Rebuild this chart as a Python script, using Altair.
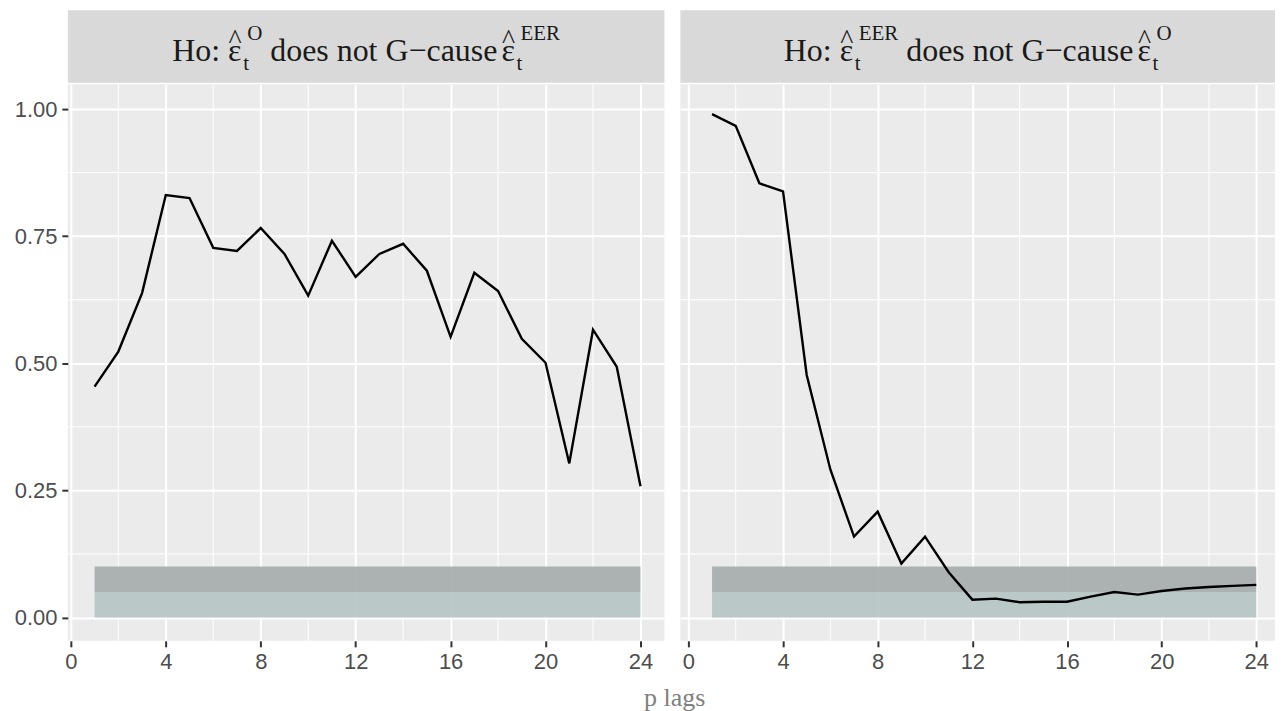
import altair as alt
import pandas as pd

# ---------------- data ----------------
lags = list(range(1, 25))
p_left = [0.454, 0.523, 0.638, 0.831, 0.825, 0.727, 0.721, 0.766, 0.715, 0.633,
          0.741, 0.670, 0.715, 0.735, 0.682, 0.552, 0.678, 0.642, 0.548, 0.501,
          0.303, 0.566, 0.493, 0.258]
p_right = [0.990, 0.967, 0.854, 0.838, 0.477, 0.291, 0.159, 0.208, 0.106, 0.159,
           0.089, 0.035, 0.037, 0.030, 0.031, 0.031, 0.041, 0.050, 0.045, 0.052,
           0.057, 0.060, 0.062, 0.064]
band_x = [1, 24]
band_lo = [0.00, 0.05]
band_hi = [0.05, 0.10]
band_colors = ["#B6C4C4", "#A6ACAC"]
x_ticks = [0, 4, 8, 12, 16, 20, 24]
x_minor = [2, 6, 10, 14, 18, 22]
y_ticks = [0.0, 0.25, 0.5, 0.75, 1.0]
y_minor = [0.125, 0.375, 0.625, 0.875]

H = 558
YS = alt.Scale(domain=[-0.046, 1.049], nice=False, zero=False)

# Times-like metrics for strip label layout
M = {'H': .722, 'o': .5, ':': .278, ' ': .25, 'd': .5, 'e': .444, 's': .389, 'n': .5,
     't': .278, 'G': .722, '\u2212': .564, 'c': .444, 'a': .444, 'u': .5, 'O': .722,
     'E': .611, 'R': .667}


def tw(s, size):
    return sum(M[c] for c in s) * size


one = alt.Data(values=[{"k": 1}])


def txt(s, x, y, size, align="left"):
    return alt.Chart(one).mark_text(
        text=s, font="Liberation Serif", fontSize=size, align=align,
        baseline="alphabetic", color="#1A1A1A"
    ).encode(x=alt.value(x), y=alt.value(y))


def strip(W, supA, supB):
    F, S = 32, 21
    EPS = 0.44 * F
    gap = tw(" ", F)
    w_ho = tw("Ho:", F)
    w_mid = tw("does not G\u2212cause", F)
    w_scrA = max(tw(supA, S), tw("t", S)) + 5
    w_scrB = max(tw(supB, S), tw("t", S)) + 5
    total = w_ho + gap + EPS + w_scrA + gap + w_mid + 0.5 * gap + EPS + w_scrB
    x = W / 2 - total / 2
    layers = [alt.Chart(one).mark_rect(color="#D9D9D9").encode(
        x=alt.value(0), x2=alt.value(W), y=alt.value(-74), y2=alt.value(-1.5))]
    layers.append(txt("Ho:", x, -23.5, F))
    x += w_ho + gap

    def eps_block(x, sup):
        return [txt("\u03b5", x, -23.5, F),
                txt("^", x + EPS / 2, -36, 28, align="center"),
                txt("t", x + EPS + 1, -14, S),
                txt(sup, x + EPS + 5, -44, S)]
    layers += eps_block(x, supA)
    x += EPS + w_scrA + gap
    layers.append(txt("does not G\u2212cause", x, -23.5, F))
    x += w_mid + 0.5 * gap
    layers += eps_block(x, supB)
    return layers


def panel(values, W, xdom, show_y, supA, supB):
    XS = alt.Scale(domain=xdom, nice=False, zero=False)
    df = pd.DataFrame({"lag": lags, "p": values})
    bands = pd.DataFrame({"x1": [band_x[0]] * 2, "x2": [band_x[1]] * 2,
                          "lo": band_lo, "hi": band_hi, "c": band_colors})
    xaxis = alt.Axis(values=x_ticks, title=None, grid=True, gridColor="white",
                     gridWidth=2, domain=False, tickColor="#333333", tickWidth=2,
                     tickSize=6, labelColor="#4D4D4D", labelFont="Liberation Sans",
                     labelFontSize=22, labelPadding=5, labelFlush=False, format="d")
    if show_y:
        yaxis = alt.Axis(values=y_ticks, format=".2f", title=None, grid=True,
                         gridColor="white", gridWidth=2, domain=False,
                         tickColor="#333333", tickWidth=2, tickSize=6,
                         labelColor="#4D4D4D", labelFont="Liberation Sans",
                         labelFontSize=22, labelPadding=5, minExtent=60, maxExtent=60)
    else:
        yaxis = alt.Axis(values=y_ticks, title=None, grid=True, gridColor="white",
                         gridWidth=2, domain=False, ticks=False, labels=False,
                         minExtent=0, maxExtent=0)
    vminor = alt.Chart(pd.DataFrame({"v": x_minor})).mark_rule(
        color="white", strokeWidth=1).encode(x=alt.X("v:Q", scale=XS, axis=xaxis))
    hminor = alt.Chart(pd.DataFrame({"v": y_minor})).mark_rule(
        color="white", strokeWidth=1).encode(y=alt.Y("v:Q", scale=YS, axis=yaxis))
    band = alt.Chart(bands).mark_rect(opacity=0.92).encode(
        x=alt.X("x1:Q", scale=XS, axis=xaxis), x2="x2:Q",
        y=alt.Y("lo:Q", scale=YS, axis=yaxis), y2="hi:Q",
        color=alt.Color("c:N", scale=None))
    line = alt.Chart(df).mark_line(color="black", strokeWidth=2.4).encode(
        x=alt.X("lag:Q", scale=XS, axis=xaxis),
        y=alt.Y("p:Q", scale=YS, axis=yaxis))
    return alt.layer(vminor, hminor, band, line, *strip(W, supA, supB)).properties(
        width=W, height=H)


left = panel(p_left, 598, [-0.126, 25.01], True, "O", "EER")
right = panel(p_right, 596, [-0.337, 24.79], False, "EER", "O")

chart = alt.hconcat(left, right, spacing=14).properties(
    padding={"left": 0, "top": 1.5, "right": 0, "bottom": 0},
    title=alt.TitleParams("p lags", orient="bottom", anchor="middle", dx=33,
                          offset=12, font="Liberation Serif", fontSize=26,
                          fontWeight="normal", color="#808080"),
).configure_view(stroke=None, fill="#EBEBEB")

chart.save("out.html", embed_options={"renderer": "svg", "actions": False})
